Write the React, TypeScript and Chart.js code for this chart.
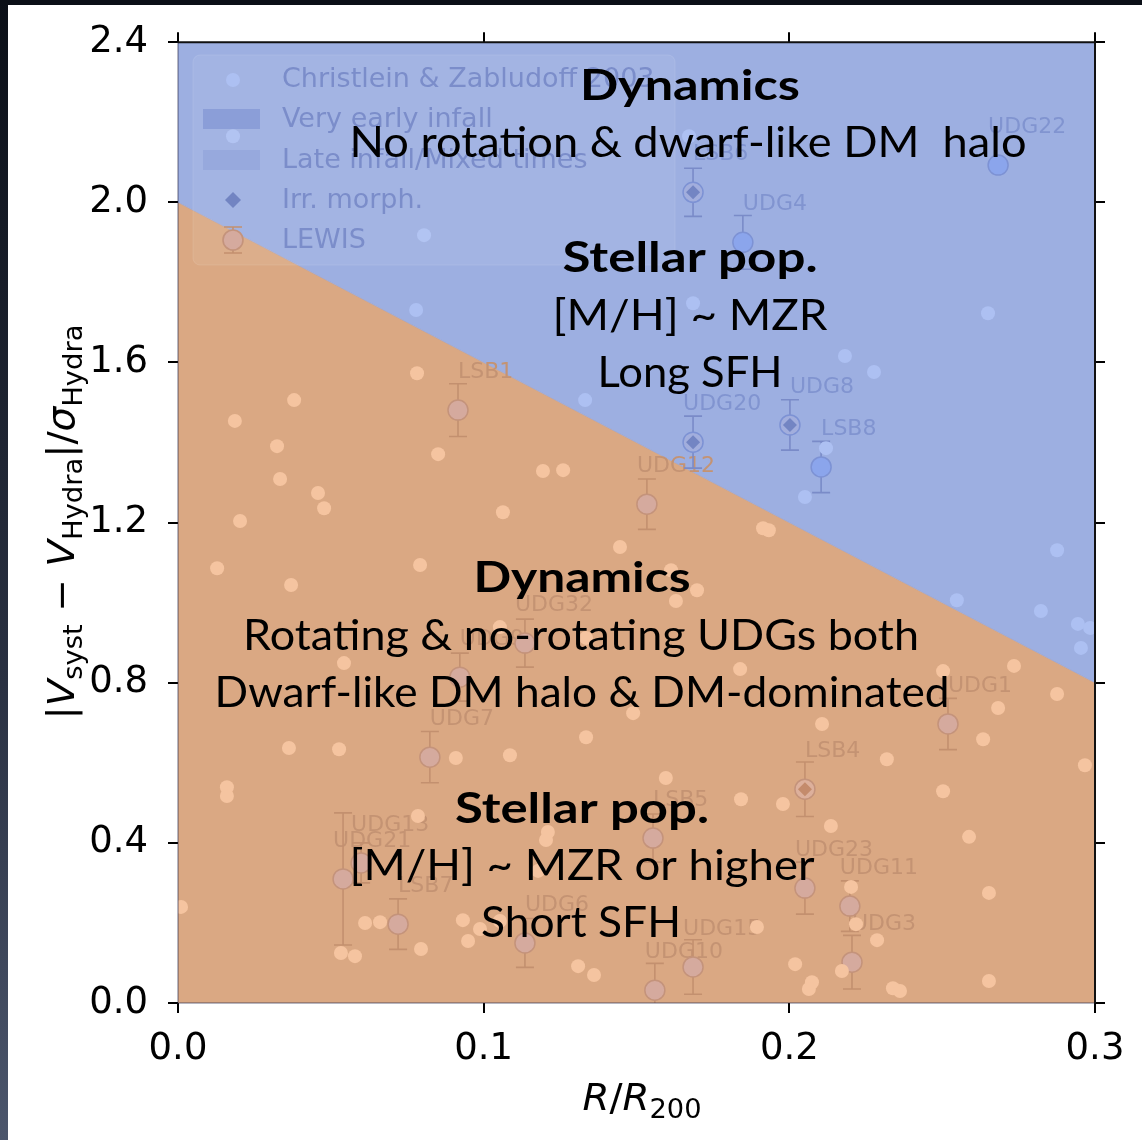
import React, { useEffect, useRef } from "react";
import { Chart, registerables } from "chart.js";

Chart.register(...registerables);

// Boundary between "very early infall" (above) and "late infall / mixed times" (below)
const boundaryR = [0.0, 0.3];
const boundaryV = [2.0, 0.8];

// Christlein & Zabludoff 2003 galaxies
const czR = [
  0.0805, 0.0779, 0.1332, 0.1685, 0.1672, 0.265, 0.2182, 0.2277, 0.212, 0.2051, 0.2876, 0.2548, 0.2823, 0.2944, 0.2984, 0.2954, 0.018,
  0.0782, 0.038, 0.0186, 0.0324, 0.0851, 0.0334, 0.1194, 0.126, 0.0458, 0.0478, 0.1063, 0.0203, 0.1446, 0.0128, 0.0792, 0.037,
  0.1613, 0.1698, 0.1629, 0.1914, 0.1933, 0.1053, 0.1335, 0.0543, 0.1839, 0.2735, 0.2503, 0.2876, 0.2683, 0.1489, 0.2107, 0.1335,
  0.2634, 0.0363, 0.0527, 0.0909, 0.1086, 0.2319, 0.2967, 0.1596, 0.016, 0.016, 0.2503, 0.1842, 0.1979, 0.0785, 0.2136, 0.121,
  0.1204, 0.2588, 0.1178, 0.2202, 0.2653, 0.001, 0.0612, 0.0661, 0.0932, 0.1053, 0.0988, 0.0949, 0.0795, 0.0533, 0.0579, 0.1894,
  0.2218, 0.2287, 0.1309, 0.1361, 0.2019, 0.2172, 0.2074, 0.2064, 0.2339, 0.2362, 0.2653,
];
const czV = [
  1.918, 1.731, 1.506, 1.748, 2.165, 1.723, 1.616, 1.576, 1.386, 1.264, 1.131, 1.006, 0.979, 0.947, 0.937, 0.887, 2.165,
  1.573, 1.506, 1.454, 1.391, 1.371, 1.309, 1.329, 1.331, 1.274, 1.236, 1.226, 1.204, 1.139, 1.086, 1.094, 1.044,
  1.081, 1.031, 1.004, 1.186, 1.181, 0.939, 0.912, 0.849, 0.834, 0.842, 0.829, 0.772, 0.737, 0.724, 0.697, 0.664,
  0.659, 0.637, 0.634, 0.612, 0.619, 0.609, 0.594, 0.562, 0.539, 0.517, 0.529, 0.509, 0.497, 0.467, 0.442, 0.427,
  0.407, 0.415, 0.33, 0.29, 0.275, 0.24, 0.2, 0.202, 0.207, 0.205, 0.185, 0.155, 0.135, 0.125, 0.117, 0.19,
  0.197, 0.157, 0.092, 0.07, 0.097, 0.08, 0.052, 0.035, 0.037, 0.03, 0.055,
];

// LEWIS UDGs
const lewisNames = [
  "LSB6", "UDG4", "UDG22", "UDG20", "UDG8", "LSB8", "LSB1", "UDG12", "UDG32", "UDG9", "UDG7", "UDG21",
  "UDG13", "LSB7", "UDG6", "LSB5", "UDG10", "UDG15", "LSB4", "UDG23", "UDG11", "UDG3", "UDG1",
];
const lewisR = [
  0.1685, 0.1848, 0.2683, 0.1685, 0.2002, 0.2104, 0.0916, 0.1534, 0.1135, 0.0922, 0.0824, 0.054,
  0.0599, 0.072, 0.1135, 0.1554, 0.156, 0.1685, 0.2051, 0.2051, 0.2198, 0.2205, 0.2519,
];
const lewisV = [
  2.025, 1.9, 2.093, 1.401, 1.444, 1.339, 1.481, 1.246, 0.899, 0.814, 0.614, 0.31,
  0.35, 0.197, 0.15, 0.412, 0.032, 0.09, 0.534, 0.287, 0.242, 0.102, 0.697,
];
const lewisErr = [
  0.06, 0.067, 0.0, 0.065, 0.063, 0.064, 0.066, 0.063, 0.06, 0.06, 0.064, 0.165,
  0.05, 0.063, 0.061, 0.06, 0.067, 0.068, 0.068, 0.065, 0.063, 0.067, 0.064,
];
const irrNames = ["LSB6", "UDG20", "UDG8", "LSB4"];

const xTicks = [0.0, 0.1, 0.2, 0.3];
const yTicks = [0.0, 0.4, 0.8, 1.2, 1.6, 2.0, 2.4];

const legendLabels = [
  "Christlein & Zabludoff 2003",
  "Very early infall",
  "Late infall/Mixed times",
  "Irr. morph.",
  "LEWIS",
];

const annotationTexts = [
  "Dynamics",
  "No rotation & dwarf-like DM  halo",
  "Stellar pop.",
  "[M/H] ~ MZR",
  "Long SFH",
  "Dynamics",
  "Rotating & no-rotating UDGs both",
  "Dwarf-like DM halo & DM-dominated",
  "Stellar pop.",
  "[M/H] ~ MZR or higher",
  "Short SFH",
];
// layout of the annotation lines: [centerX, baselineY, width, bold]
const annotationLayout: [number, number, number, boolean][] = [
  [690, 100, 220, true],
  [688, 157, 677, false],
  [690, 272, 255, true],
  [690, 330, 275, false],
  [690, 387, 185, false],
  [582, 592, 217, true],
  [581, 650, 676, false],
  [582, 707, 735, false],
  [582, 823, 254, true],
  [582, 880, 465, false],
  [581, 937, 200, false],
];

const BLUE_FILL = "#9dafe1";
const ORANGE_FILL = "#daa883";
const BLUE_DOT = "#adc0f2";
const ORANGE_DOT = "#f5c4a0";
const STYLE = {
  blue: { fill: "#8ba5ec", irrFill: "#a2aedd", edge: "#7d92d4", bar: "#7a8bc8", label: "#8194d0", diamond: "#7385c3" },
  orange: { fill: "#d5aa9e", irrFill: "#ddb09c", edge: "#c4937b", bar: "#c3906f", label: "#c49373", diamond: "#c48b6c" },
};

function regionOf(x: number, y: number): "blue" | "orange" {
  const t = (x - boundaryR[0]) / (boundaryR[1] - boundaryR[0]);
  const b = boundaryV[0] + t * (boundaryV[1] - boundaryV[0]);
  return y > b ? "blue" : "orange";
}

type Seg = { t: string; it?: boolean; sub?: boolean };
function drawRich(ctx: CanvasRenderingContext2D, segs: Seg[], target: number, size: number, subSize: number, subShift: number) {
  const fontOf = (s: Seg) => `${s.it ? "italic " : ""}${s.sub ? subSize : size}px 'DejaVu Sans'`;
  let total = 0;
  const ws = segs.map((s) => {
    ctx.font = fontOf(s);
    const w = ctx.measureText(s.t).width;
    total += w;
    return w;
  });
  const sc = target / total;
  ctx.save();
  ctx.scale(sc, 1);
  ctx.textBaseline = "alphabetic";
  ctx.textAlign = "left";
  ctx.fillStyle = "#000";
  let x = -total / 2;
  segs.forEach((s, i) => {
    ctx.font = fontOf(s);
    ctx.fillText(s.t, x, s.sub ? subShift : 0);
    x += ws[i];
  });
  ctx.restore();
}

export default function App() {
  const ref = useRef<HTMLCanvasElement | null>(null);

  useEffect(() => {
    let chart: Chart | null = null;
    let cancelled = false;
    const fonts = ["37px 'DejaVu Sans'", "italic 37px 'DejaVu Sans'", "42px Lato", "bold 42px Lato"];
    Promise.all(fonts.map((f) => (document as any).fonts.load(f)))
      .catch(() => null)
      .then(() => {
        if (cancelled || !ref.current) return;

        const boundaryData = boundaryR.map((r, i) => ({ x: r, y: boundaryV[i] }));
        const czData = czR.map((r, i) => ({ x: r, y: czV[i] }));
        const czColors = czR.map((r, i) => (regionOf(r, czV[i]) === "blue" ? BLUE_DOT : ORANGE_DOT));
        const lewisData = lewisR.map((r, i) => ({ x: r, y: lewisV[i] }));
        const lewisReg = lewisR.map((r, i) => STYLE[regionOf(r, lewisV[i])]);
        const isIrr = lewisNames.map((n) => irrNames.includes(n));
        const irrIdx = lewisNames.map((_, i) => i).filter((i) => isIrr[i]);

        const tickFont = { family: "'DejaVu Sans'", size: 37 };
        const gridCfg = { drawOnChartArea: false, drawTicks: true, tickLength: 10, color: "#000", lineWidth: 2 };

        const overlay = {
          id: "overlay",
          beforeDatasetDraw(c: any, args: any) {
            if (args.meta.label !== "LEWIS") return;
            const ctx: CanvasRenderingContext2D = c.ctx;
            const xs = c.scales.x;
            const ys = c.scales.y;
            const a = c.chartArea;
            ctx.save();
            ctx.beginPath();
            ctx.rect(a.left, a.top, a.right - a.left, a.bottom - a.top);
            ctx.clip();
            // labels
            ctx.font = "22px 'DejaVu Sans'";
            ctx.textAlign = "left";
            ctx.textBaseline = "middle";
            lewisNames.forEach((n, i) => {
              const px = xs.getPixelForValue(lewisR[i]);
              const py = ys.getPixelForValue(lewisV[i]);
              ctx.fillStyle = lewisReg[i].label;
              ctx.fillText(n, px + (n.length > 4 ? -10 : 0), py - 38);
            });
            // error bars
            ctx.lineWidth = 1.6;
            lewisNames.forEach((_, i) => {
              if (lewisErr[i] <= 0) return;
              const px = xs.getPixelForValue(lewisR[i]);
              const t = ys.getPixelForValue(lewisV[i] + lewisErr[i]);
              const b = ys.getPixelForValue(lewisV[i] - lewisErr[i]);
              ctx.strokeStyle = lewisReg[i].bar;
              ctx.beginPath();
              ctx.moveTo(px, t);
              ctx.lineTo(px, b);
              ctx.moveTo(px - 9, t);
              ctx.lineTo(px + 9, t);
              ctx.moveTo(px - 9, b);
              ctx.lineTo(px + 9, b);
              ctx.stroke();
            });
            ctx.restore();
          },
          afterDatasetsDraw(c: any) {
            const ctx: CanvasRenderingContext2D = c.ctx;
            const a = c.chartArea;
            const xs = c.scales.x;
            const ys = c.scales.y;
            // spines
            ctx.save();
            ctx.lineWidth = 1.5;
            ctx.strokeStyle = "rgba(40,40,70,0.45)";
            ctx.beginPath();
            ctx.moveTo(a.left, a.top);
            ctx.lineTo(a.left, a.bottom);
            ctx.lineTo(a.right, a.bottom);
            ctx.stroke();
            ctx.lineWidth = 2;
            ctx.strokeStyle = "#111";
            ctx.beginPath();
            ctx.moveTo(a.left, a.top);
            ctx.lineTo(a.right, a.top);
            ctx.lineTo(a.right, a.bottom);
            ctx.stroke();

            // legend
            const lx = 193, ly = 55, lw = 482, lh = 210;
            ctx.fillStyle = "rgba(255,255,255,0.07)";
            ctx.strokeStyle = "rgba(255,255,255,0.10)";
            ctx.lineWidth = 1;
            ctx.beginPath();
            (ctx as any).roundRect(lx, ly, lw, lh, 7);
            ctx.fill();
            ctx.stroke();
            const rows = [79, 119, 160, 200, 240];
            const hx = 233;
            ctx.font = "27px 'DejaVu Sans'";
            ctx.textAlign = "left";
            ctx.textBaseline = "middle";
            ctx.fillStyle = "#7b8dca";
            legendLabels.forEach((t, i) => ctx.fillText(t, 282, rows[i] + 1));
            // handle 1: dot
            ctx.fillStyle = BLUE_DOT;
            ctx.beginPath();
            ctx.arc(hx, rows[0] + 1, 7, 0, Math.PI * 2);
            ctx.fill();
            // handle 2 & 3: patches
            ctx.fillStyle = "#8b9ed8";
            ctx.fillRect(203, rows[1] - 10, 57, 20);
            ctx.fillStyle = "#97a9dd";
            ctx.fillRect(203, rows[2] - 10, 57, 20);
            // handle 4: diamond
            ctx.fillStyle = "#7284c2";
            ctx.beginPath();
            ctx.moveTo(hx, rows[3] - 8);
            ctx.lineTo(hx + 8, rows[3]);
            ctx.lineTo(hx, rows[3] + 8);
            ctx.lineTo(hx - 8, rows[3]);
            ctx.closePath();
            ctx.fill();
            // handle 5: LEWIS marker with error bar
            const st = STYLE[regionOf(xs.getValueForPixel(hx), ys.getValueForPixel(rows[4]))];
            ctx.strokeStyle = st.bar;
            ctx.lineWidth = 1.6;
            ctx.beginPath();
            ctx.moveTo(hx, rows[4] - 13);
            ctx.lineTo(hx, rows[4] + 13);
            ctx.moveTo(hx - 9, rows[4] - 13);
            ctx.lineTo(hx + 9, rows[4] - 13);
            ctx.moveTo(hx - 9, rows[4] + 13);
            ctx.lineTo(hx + 9, rows[4] + 13);
            ctx.stroke();
            ctx.fillStyle = st.fill;
            ctx.strokeStyle = st.edge;
            ctx.beginPath();
            ctx.arc(hx, rows[4], 10, 0, Math.PI * 2);
            ctx.fill();
            ctx.stroke();
            ctx.restore();
          },
          afterDraw(c: any) {
            const ctx: CanvasRenderingContext2D = c.ctx;
            // annotations
            ctx.save();
            ctx.fillStyle = "#000";
            ctx.textAlign = "center";
            ctx.textBaseline = "alphabetic";
            annotationTexts.forEach((t, i) => {
              const [cx, by, w, bold] = annotationLayout[i];
              ctx.font = `${bold ? "bold " : ""}42px Lato`;
              const mw = ctx.measureText(t).width;
              ctx.save();
              ctx.translate(cx, by);
              ctx.scale(w / mw, 1);
              ctx.fillText(t, 0, 0);
              ctx.restore();
            });
            ctx.restore();
            // y title
            ctx.save();
            ctx.translate(74, 522);
            ctx.rotate(-Math.PI / 2);
            drawRich(
              ctx,
              [
                { t: "|" },
                { t: "V", it: true },
                { t: "syst", sub: true },
                { t: " − " },
                { t: "V", it: true },
                { t: "Hydra", sub: true },
                { t: "|/" },
                { t: "σ", it: true },
                { t: "Hydra", sub: true },
              ],
              395,
              37,
              26,
              8
            );
            ctx.restore();
            // x title
            ctx.save();
            ctx.translate(642, 1110);
            drawRich(
              ctx,
              [{ t: "R", it: true }, { t: "/" }, { t: "R", it: true }, { t: "200", sub: true }],
              119,
              37,
              26,
              8
            );
            ctx.restore();
          },
        };

        chart = new Chart(ref.current, {
          type: "scatter",
          data: {
            datasets: [
              {
                type: "line",
                label: "Very early infall",
                data: boundaryData,
                fill: "end",
                backgroundColor: BLUE_FILL,
                borderWidth: 0,
                pointRadius: 0,
                order: 10,
              } as any,
              {
                type: "line",
                label: "Late infall/Mixed times",
                data: boundaryData,
                fill: "start",
                backgroundColor: ORANGE_FILL,
                borderColor: "rgba(150,160,205,0.7)",
                borderWidth: 1,
                pointRadius: 0,
                order: 9,
              } as any,
              {
                label: "LEWIS",
                data: lewisData,
                pointRadius: 10,
                pointBackgroundColor: lewisReg.map((s, i) => (isIrr[i] ? s.irrFill : s.fill)),
                pointBorderColor: lewisReg.map((s) => s.edge),
                pointBorderWidth: 1.5,
                order: 3,
              },
              {
                label: "Irr. morph.",
                data: irrIdx.map((i) => lewisData[i]),
                pointStyle: "rectRot",
                pointRadius: 7,
                pointBackgroundColor: irrIdx.map((i) => lewisReg[i].diamond),
                pointBorderWidth: 0,
                order: 2,
              },
              {
                label: "Christlein & Zabludoff 2003",
                data: czData,
                pointRadius: 7,
                pointBackgroundColor: czColors,
                pointBorderWidth: 0,
                order: 1,
              },
            ],
          },
          options: {
            animation: false,
            responsive: false,
            maintainAspectRatio: false,
            layout: { padding: 0 },
            plugins: { legend: { display: false }, tooltip: { enabled: false } },
            scales: {
              x: {
                type: "linear",
                position: "bottom",
                min: 0,
                max: 0.3,
                afterBuildTicks: (s: any) => {
                  s.ticks = xTicks.map((v) => ({ value: v }));
                },
                afterFit: (s: any) => {
                  s.height = 137;
                },
                ticks: {
                  font: tickFont,
                  color: "#000",
                  padding: 14,
                  maxRotation: 0,
                  autoSkip: false,
                  callback: (v: any) => Number(v).toFixed(1),
                },
                grid: gridCfg,
                border: { display: false },
              },
              x2: {
                type: "linear",
                position: "top",
                min: 0,
                max: 0.3,
                afterBuildTicks: (s: any) => {
                  s.ticks = xTicks.map((v) => ({ value: v }));
                },
                afterFit: (s: any) => {
                  s.height = 42;
                },
                ticks: { display: false },
                grid: gridCfg,
                border: { display: false },
              },
              y: {
                type: "linear",
                position: "left",
                min: 0,
                max: 2.4,
                afterBuildTicks: (s: any) => {
                  s.ticks = yTicks.map((v) => ({ value: v }));
                },
                afterFit: (s: any) => {
                  s.width = 178;
                },
                ticks: {
                  font: tickFont,
                  color: "#000",
                  padding: 20,
                  autoSkip: false,
                  callback: (v: any) => Number(v).toFixed(1),
                },
                grid: gridCfg,
                border: { display: false },
              },
              y2: {
                type: "linear",
                position: "right",
                min: 0,
                max: 2.4,
                afterBuildTicks: (s: any) => {
                  s.ticks = yTicks.map((v) => ({ value: v }));
                },
                afterFit: (s: any) => {
                  s.width = 47;
                },
                ticks: { display: false },
                grid: gridCfg,
                border: { display: false },
              },
            },
          } as any,
          plugins: [overlay as any],
        });
      });
    return () => {
      cancelled = true;
      if (chart) chart.destroy();
    };
  }, []);

  return (
    <div style={{ position: "absolute", left: 0, top: 0, width: 1142, height: 1140, background: "#fff", overflow: "hidden" }}>
      <canvas ref={ref} width={1142} height={1140} style={{ position: "absolute", left: 0, top: 0, width: 1142, height: 1140 }} />
      <div style={{ position: "absolute", left: 0, top: 0, width: 1142, height: 5, background: "#0b0f17" }} />
      <div
        style={{
          position: "absolute",
          left: 0,
          top: 0,
          width: 8,
          height: 1140,
          background: "linear-gradient(#0b0f17, #2a3142 60%, #4c566c)",
        }}
      />
    </div>
  );
}
